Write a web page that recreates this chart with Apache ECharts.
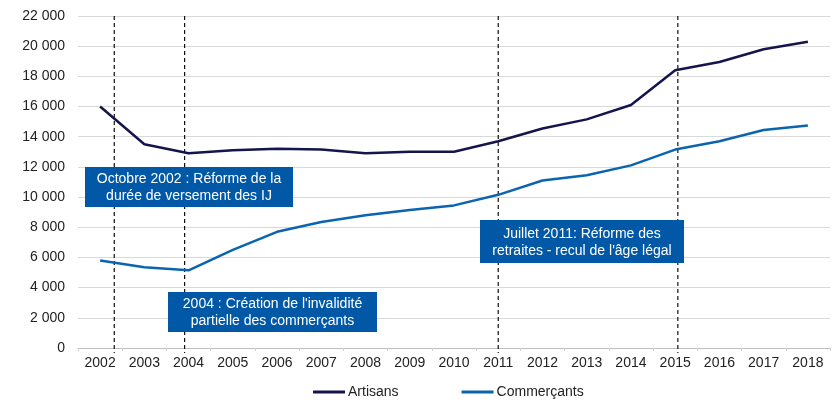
<!DOCTYPE html>
<html><head><meta charset="utf-8">
<script src="https://cdn.jsdelivr.net/npm/echarts@6/dist/echarts.min.js"></script>
<style>html,body{margin:0;padding:0;background:#fff}#c{width:832px;height:400px}</style>
</head><body><div id="c"></div>
<script>
var years = ['2002','2003','2004','2005','2006','2007','2008','2009','2010','2011','2012','2013','2014','2015','2016','2017','2018'];
var artisans = [16000,13500,12900,13100,13200,13150,12900,13000,13000,13700,14550,15150,16100,18400,18950,19800,20300];
var commercants = [5800,5350,5150,6500,7700,8350,8800,9150,9450,10150,11100,11450,12100,13150,13700,14450,14750];
// event positions expressed in category index units (0 = 2002)
var eventPositions = [0.32, 1.91, 9.0, 13.06];
var annotations = [
  {text: 'Octobre 2002 : Réforme de la\ndurée de versement des IJ', x: 85, y: 167, w: 208, h: 40},
  {text: '2004 : Création de l\'invalidité\npartielle des commerçants', x: 168, y: 292, w: 209, h: 40},
  {text: 'Juillet 2011: Réforme des\nretraites - recul de l\'âge légal', x: 480, y: 220, w: 204, h: 43}
];
var font = 'Liberation Sans, Arial, sans-serif';
var chart = echarts.init(document.getElementById('c'));
var graphics = [];
annotations.forEach(function(a){
  graphics.push({type:'rect', left:a.x, top:a.y, shape:{width:a.w, height:a.h}, style:{fill:'#0058a6'}, z:100});
  graphics.push({type:'text', x:a.x + a.w/2, y:a.y + a.h/2 + 1, z:101,
    style:{text:a.text, fill:'#fff', font:'14px ' + font, textAlign:'center', textVerticalAlign:'middle', lineHeight:17}});
});
chart.setOption({
  animation:false,
  textStyle:{fontFamily:font},
  grid:{left:78, right:2, top:16, bottom:52},
  legend:{top:385, left:313, padding:0, itemGap:63, itemWidth:32, itemHeight:3, icon:'rect',
    textStyle:{fontSize:14, color:'#222', fontFamily:font, padding:[0,0,0,-2]},
    data:['Artisans','Commerçants']},
  xAxis:[{type:'category', data:years, boundaryGap:true,
    axisLine:{lineStyle:{color:'#bfbfbf'}},
    axisTick:{show:true, length:3, lineStyle:{color:'#d0d0d0'}},
    axisLabel:{color:'#222', fontSize:14, margin:8, fontFamily:font}},
   {type:'value', min:-0.5, max:16.5, show:false}],
  yAxis:{type:'value', min:0, max:22000, interval:2000,
    axisLine:{show:false}, axisTick:{show:false},
    splitLine:{lineStyle:{color:'#d9d9d9'}},
    axisLabel:{color:'#222', fontSize:14, margin:13, fontFamily:font,
      formatter:function(v){return String(v).replace(/\B(?=(\d{3})+(?!\d))/g,' ');}}},
  series:[
    {name:'Artisans', type:'line', data:artisans, symbol:'none', lineStyle:{width:2.5, color:'#14154d'}, itemStyle:{color:'#14154d'}, z:5},
    {name:'Commerçants', type:'line', data:commercants, symbol:'none', lineStyle:{width:2.5, color:'#0b64b0'}, itemStyle:{color:'#0b64b0'}, z:5},
    {name:'events', type:'custom', xAxisIndex:1, clip:false, silent:true, z:3,
      data:eventPositions.map(function(p){return [p];}),
      encode:{x:0},
      renderItem:function(params, api){
        var p = api.value(0);
        var top = api.coord([p, 22000]);
        var bottom = api.coord([p, 0]);
        return {type:'line', shape:{x1:top[0], y1:top[1], x2:bottom[0], y2:bottom[1] + 5},
          style:{stroke:'#111', lineWidth:1.2, lineDash:[4,3]}};
      }}
  ],
  graphic:graphics
});
</script></body></html>
